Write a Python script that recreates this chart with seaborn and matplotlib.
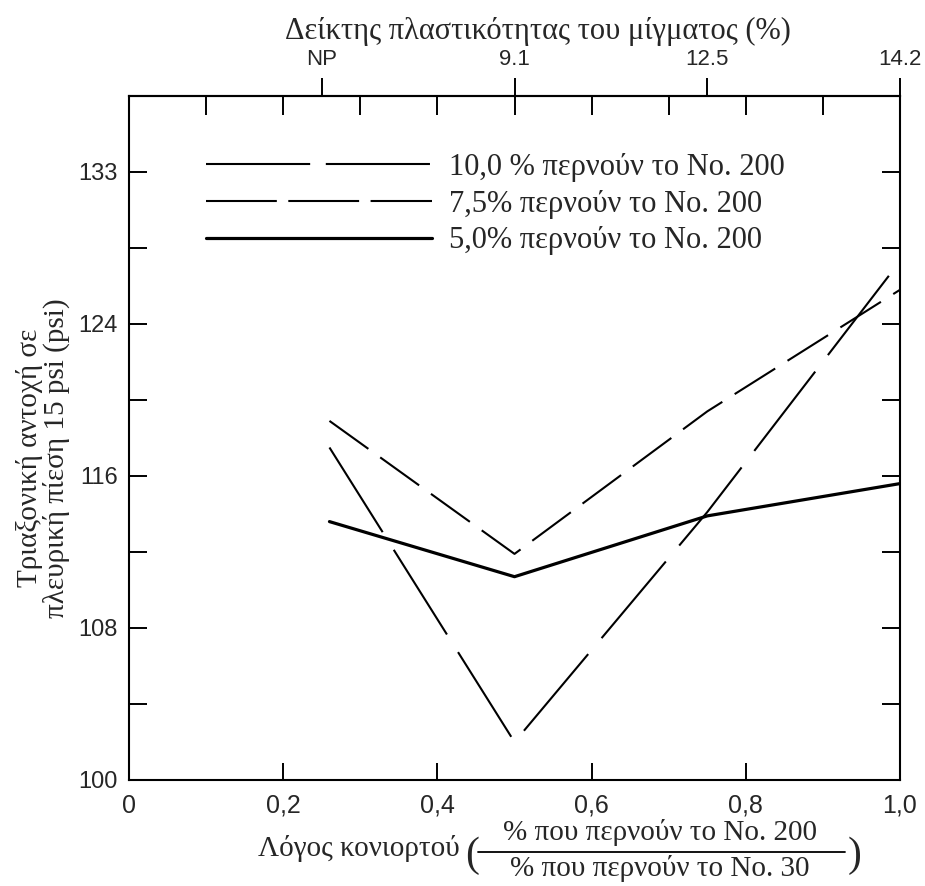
import matplotlib
matplotlib.use("Agg")
import matplotlib.pyplot as plt
import seaborn as sns
import pandas as pd
from matplotlib.lines import Line2D
from matplotlib.ticker import FixedLocator

# ---------------- data ----------------
dust_ratio = [0.26, 0.50, 0.75, 1.00]
strength_10 = [117.5, 102.0, 114.1, 127.3]
strength_75 = [118.9, 111.9, 119.4, 125.8]
strength_50 = [113.6, 110.7, 113.9, 115.6]
series_labels = ["10,0 % περνούν το No. 200",
                 "7,5% περνούν το No. 200",
                 "5,0% περνούν το No. 200"]

x_ticks = [0, 0.2, 0.4, 0.6, 0.8, 1.0]
x_tick_labels = ["0", "0,2", "0,4", "0,6", "0,8", "1,0"]
x_minor_top = [0.1, 0.2, 0.3, 0.4, 0.5, 0.6, 0.7, 0.8, 0.9]
y_ticks = [100, 108, 116, 124, 132]
y_tick_labels = ["100", "108", "116", "124", "133"]
y_minor = [104, 112, 120, 128]
pi_ticks = [0.25, 0.50, 0.75, 1.00]
pi_labels = ["NP", "9.1", "12.5", "14.2"]

top_title = "Δείκτης πλαστικότητας του μίγματος (%)"
y_title = "Τριαξονική αντοχή σε\nπλευρική πίεση 15 psi (psi)"
x_title = "Λόγος κονιορτού"
x_num = "% που περνούν το No. 200"
x_den = "% που περνούν το No. 30"

# ---------------- style ----------------
sns.set_theme(style="white")
plt.rcParams["font.family"] = ["Liberation Serif", "DejaVu Serif"]
SANS = ["Liberation Sans Narrow", "Liberation Sans", "DejaVu Sans"]
SERIF = ["Liberation Serif", "DejaVu Serif"]

W, H = 925, 886
fig = plt.figure(figsize=(W / 100, H / 100), dpi=100)
ax = fig.add_axes([129 / W, (H - 780) / H, (900 - 129) / W, (780 - 96) / H])

df = pd.DataFrame({
    "x": dust_ratio * 3,
    "y": strength_10 + strength_75 + strength_50,
    "series": [series_labels[0]] * 4 + [series_labels[1]] * 4 + [series_labels[2]] * 4,
})

styles = {
    series_labels[0]: dict(lw=1.5, ls=(0, (48, 10))),
    series_labels[1]: dict(lw=1.5, ls=(0, (23, 7))),
    series_labels[2]: dict(lw=2.3, ls="-"),
}
for lab in series_labels:
    sub = df[df["series"] == lab]
    sns.lineplot(data=sub, x="x", y="y", ax=ax, color="black",
                 linewidth=styles[lab]["lw"], linestyle=styles[lab]["ls"],
                 legend=False, estimator=None, sort=False)

ax.set_xlim(0, 1.0)
ax.set_ylim(100, 136)
ax.set_xlabel("")
ax.set_ylabel("")

for sp in ax.spines.values():
    sp.set_visible(True)
    sp.set_color("black")
    sp.set_linewidth(1.5)

ax.set_xticks(x_ticks)
ax.set_xticklabels(x_tick_labels, family=SANS, fontsize=18)
ax.xaxis.set_minor_locator(FixedLocator(x_minor_top))
ax.xaxis.remove_overlapping_locs = False
ax.tick_params(axis="x", which="major", direction="in", bottom=True, top=False,
               length=12, width=1.4, pad=10, color="black")
ax.tick_params(axis="x", which="minor", direction="in", bottom=False, top=True,
               length=14, width=1.4, color="black")

ax.set_yticks(y_ticks)
ax.set_yticklabels(y_tick_labels, family=SANS, fontsize=17)
ax.yaxis.set_minor_locator(FixedLocator(y_minor))
ax.tick_params(axis="y", which="both", direction="in", left=True, right=True,
               length=13, width=1.4, pad=8, color="black")

sec = ax.secondary_xaxis("top")
sec.set_xticks(pi_ticks)
sec.set_xticklabels(pi_labels, family=SANS, fontsize=16)
sec.tick_params(axis="x", direction="out", length=13, width=1.4, pad=6, color="black")
sec.spines["top"].set_linewidth(1.5)

# legend
handles = [
    Line2D([], [], color="black", lw=1.5, ls=(0, (50, 7.5))),
    Line2D([], [], color="black", lw=1.5, ls=(0, (34, 5.5))),
    Line2D([], [], color="black", lw=2.3, ls="-"),
]
leg = ax.legend(handles, series_labels, loc="upper left",
                bbox_to_anchor=(206 / W, 1 - 153 / H), bbox_transform=fig.transFigure,
                frameon=False, prop={"family": SERIF, "size": 22},
                handlelength=7.4, handletextpad=0.55, labelspacing=0.25,
                borderpad=0, borderaxespad=0)

# titles
fig.text(538 / W, 1 - 31 / H, top_title, ha="center", va="center",
         fontsize=22, family=SERIF)
fig.text(43 / W, 1 - 458 / H, y_title, ha="center", va="center", rotation=90,
         fontsize=21, family=SERIF, linespacing=1.0)

fig.text(460 / W, 1 - 848 / H, x_title, ha="right", va="center",
         fontsize=21, family=SERIF)
fig.text(660 / W, 1 - 833 / H, x_num, ha="center", va="center",
         fontsize=21, family=SERIF)
fig.text(660 / W, 1 - 869 / H, x_den, ha="center", va="center",
         fontsize=21, family=SERIF)
fig.add_artist(Line2D([478 / W, 845 / W], [1 - 852 / H, 1 - 852 / H],
                      transform=fig.transFigure, color="black", lw=1.3))
fig.text(472 / W, 1 - 856 / H, "(", ha="center", va="center",
         fontsize=30, family=SERIF)
fig.text(855 / W, 1 - 856 / H, ")", ha="center", va="center",
         fontsize=30, family=SERIF)

fig.savefig("out.png", dpi=100)
